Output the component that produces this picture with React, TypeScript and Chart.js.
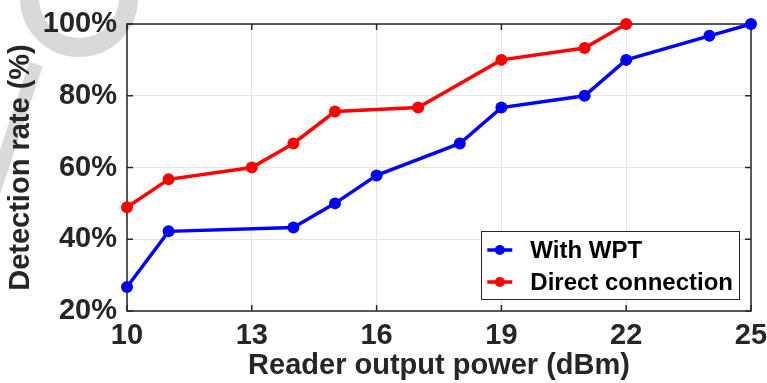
import React, { useEffect, useRef } from 'react';
import { Chart, registerables } from 'chart.js';

Chart.register(...registerables);

// ---- data ----
const seriesNames = ['With WPT', 'Direct connection'];
const powerWPT = [10, 11, 14, 15, 16, 18, 19, 21, 22, 24, 25];
const rateWPT = [26.7, 42.2, 43.3, 50, 57.8, 66.7, 76.7, 80, 90, 96.7, 100];
const powerDirect = [10, 11, 13, 14, 15, 17, 19, 21, 22];
const rateDirect = [48.9, 56.7, 60, 66.7, 75.6, 76.7, 90, 93.3, 100];
const xTicks = [10, 13, 16, 19, 22, 25];
const yTicks = [20, 40, 60, 80, 100];
const xTitle = 'Reader output power (dBm)';
const yTitle = 'Detection rate (%)';

const FONT = '"Liberation Sans", Arial, Helvetica, sans-serif';
const TEXT = '#262626';
const GRID = '#e4e4e4';
const MARK = '#d9d9d9';

const boxPlugin = {
  id: 'matlabBox',
  beforeDatasetsDraw(chart: any) {
    const { ctx, chartArea: a, scales } = chart;
    ctx.save();
    ctx.strokeStyle = TEXT;
    ctx.lineWidth = 1.5;
    ctx.strokeRect(a.left, a.top, a.right - a.left, a.bottom - a.top);
    const tl = 6;
    ctx.beginPath();
    for (const v of xTicks) {
      const px = scales.x.getPixelForValue(v);
      ctx.moveTo(px, a.bottom);
      ctx.lineTo(px, a.bottom - tl);
      ctx.moveTo(px, a.top);
      ctx.lineTo(px, a.top + tl);
    }
    for (const v of yTicks) {
      const py = scales.y.getPixelForValue(v);
      ctx.moveTo(a.left, py);
      ctx.lineTo(a.left + tl, py);
      ctx.moveTo(a.right, py);
      ctx.lineTo(a.right - tl, py);
    }
    ctx.stroke();
    ctx.restore();
  },
};

const legendPlugin = {
  id: 'boxLegend',
  afterDraw(chart: any) {
    const { ctx, chartArea: a } = chart;
    const ds = chart.data.datasets;
    ctx.save();
    ctx.font = `bold 24px ${FONT}`;
    let maxW = 0;
    for (const d of ds) maxW = Math.max(maxW, ctx.measureText(d.label).width);
    const w = 49 + maxW + 6;
    const h = 68;
    const right = a.right - 12;
    const bottom = a.bottom - 12;
    const left = right - w;
    const top = bottom - h;
    ctx.fillStyle = '#ffffff';
    ctx.fillRect(left, top, w, h);
    ctx.strokeStyle = TEXT;
    ctx.lineWidth = 1;
    ctx.strokeRect(Math.round(left) + 0.5, Math.round(top) + 0.5, Math.round(w), Math.round(h));
    ds.forEach((d: any, i: number) => {
      const cy = top + 19 + i * 32;
      ctx.strokeStyle = d.borderColor;
      ctx.lineWidth = 3.5;
      ctx.beginPath();
      ctx.moveTo(left + 6, cy);
      ctx.lineTo(left + 31, cy);
      ctx.stroke();
      ctx.fillStyle = d.borderColor;
      ctx.beginPath();
      ctx.arc(left + 18.5, cy, 5, 0, Math.PI * 2);
      ctx.fill();
      ctx.fillStyle = '#000000';
      ctx.textBaseline = 'middle';
      ctx.textAlign = 'left';
      ctx.fillText(d.label, left + 49, cy + 1);
    });
    ctx.restore();
  },
};

export default function App() {
  const ref = useRef<HTMLCanvasElement | null>(null);

  useEffect(() => {
    if (!ref.current) return;
    const chart = new Chart(ref.current, {
      type: 'line',
      data: {
        datasets: [
          {
            label: seriesNames[0],
            data: powerWPT.map((x, i) => ({ x, y: rateWPT[i] })),
            borderColor: '#0000ff',
            backgroundColor: '#0000ff',
            borderWidth: 3.5,
            pointRadius: 6,
            pointHoverRadius: 6,
            pointBorderWidth: 0,
            tension: 0,
            clip: false as any,
          },
          {
            label: seriesNames[1],
            data: powerDirect.map((x, i) => ({ x, y: rateDirect[i] })),
            borderColor: '#ff0000',
            backgroundColor: '#ff0000',
            borderWidth: 3.5,
            pointRadius: 6,
            pointHoverRadius: 6,
            pointBorderWidth: 0,
            tension: 0,
            clip: false as any,
          },
        ],
      },
      options: {
        responsive: false,
        animation: false,
        events: [],
        layout: { padding: { left: 0, right: 16, top: 24, bottom: 0 } },
        plugins: {
          legend: { display: false },
          tooltip: { enabled: false },
        },
        scales: {
          x: {
            type: 'linear',
            position: 'bottom',
            min: 10,
            max: 25,
            afterBuildTicks: (s: any) => {
              s.ticks = xTicks.map((v) => ({ value: v }));
            },
            afterFit: (s: any) => {
              s.height = 72;
              s.paddingLeft = 0;
              s.paddingRight = 0;
            },
            grid: { color: GRID, lineWidth: 1, drawTicks: false },
            border: { display: false },
            ticks: {
              color: TEXT,
              padding: 8,
              maxRotation: 0,
              autoSkip: false,
              font: { family: FONT, size: 29, weight: 'bold' },
            },
            title: {
              display: true,
              text: xTitle,
              color: TEXT,
              padding: { top: 0, bottom: 0 },
              font: { family: FONT, size: 29, weight: 'bold' },
            },
          },
          y: {
            type: 'linear',
            min: 20,
            max: 100,
            afterBuildTicks: (s: any) => {
              s.ticks = yTicks.map((v) => ({ value: v }));
            },
            afterFit: (s: any) => {
              s.width = 127;
              s.paddingTop = 0;
              s.paddingBottom = 0;
            },
            grid: { color: GRID, lineWidth: 1, drawTicks: false },
            border: { display: false },
            ticks: {
              color: TEXT,
              padding: 10,
              font: { family: FONT, size: 29, weight: 'bold' },
              callback: (v: any) => `${v}%`,
            },
            title: {
              display: true,
              text: yTitle,
              color: TEXT,
              padding: { top: 4, bottom: 0 },
              font: { family: FONT, size: 29, weight: 'bold' },
            },
          },
        },
      },
      plugins: [boxPlugin, legendPlugin],
    });
    return () => chart.destroy();
  }, []);

  return (
    <div
      style={{
        position: 'absolute',
        left: 0,
        top: 0,
        width: 767,
        height: 383,
        background: '#ffffff',
        overflow: 'hidden',
      }}
    >
      {/* faint watermark behind the chart */}
      <div
        style={{
          position: 'absolute',
          left: 20,
          top: -61,
          width: 118,
          height: 118,
          boxSizing: 'border-box',
          border: `19px solid ${MARK}`,
          borderRadius: '50%',
        }}
      />
      <div
        style={{
          position: 'absolute',
          left: 36,
          top: 57,
          width: 146,
          height: 14,
          background: MARK,
          transformOrigin: '0 50%',
          transform: 'rotate(108.4deg)',
        }}
      />
      <canvas
        ref={ref}
        width={767}
        height={383}
        style={{ display: 'block', position: 'absolute', left: 0, top: 0 }}
      />
    </div>
  );
}
